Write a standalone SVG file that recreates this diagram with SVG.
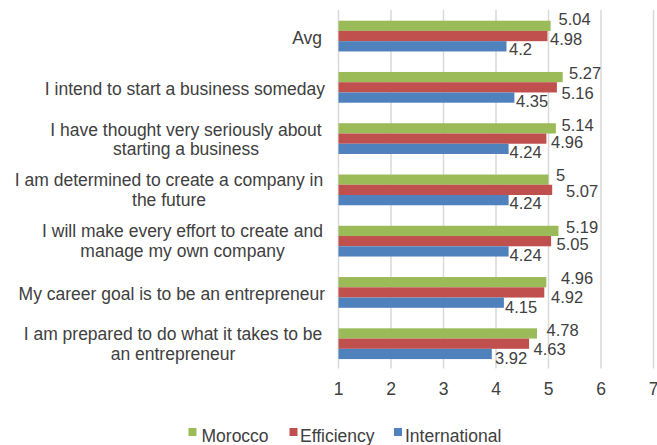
<svg xmlns="http://www.w3.org/2000/svg" width="657" height="445" viewBox="0 0 657 445">
<style>
text{font-family:"Liberation Sans",Arial,sans-serif;font-size:17.5px;fill:#404040}
.v{font-size:16.5px}
.cat{text-anchor:end}
.mid{text-anchor:middle}
.grid{stroke:#d9d9d9;stroke-width:1.5}
.g{fill:#9bbb59}
.r{fill:#c0504d}
.b{fill:#4f81bd}
</style>
<rect width="657" height="445" fill="#fff"/>
<g id="gridlines">
<line class="grid" x1="338.5" y1="10" x2="338.5" y2="368.5"/>
<line class="grid" x1="391" y1="10" x2="391" y2="368.5"/>
<line class="grid" x1="443.5" y1="10" x2="443.5" y2="368.5"/>
<line class="grid" x1="496" y1="10" x2="496" y2="368.5"/>
<line class="grid" x1="548.5" y1="10" x2="548.5" y2="368.5"/>
<line class="grid" x1="601" y1="10" x2="601" y2="368.5"/>
<line class="grid" x1="653.5" y1="10" x2="653.5" y2="368.5"/>
</g>
<g id="axis-labels">
<text class="mid" x="338.5" y="394.5">1</text>
<text class="mid" x="391" y="394.5">2</text>
<text class="mid" x="443.5" y="394.5">3</text>
<text class="mid" x="496" y="394.5">4</text>
<text class="mid" x="548.5" y="394.5">5</text>
<text class="mid" x="601" y="394.5">6</text>
<text class="mid" x="653.5" y="394.5">7</text>
</g>
<g id="cat-avg">
<text class="cat" x="322" y="43.5">Avg</text>
<rect class="g" x="338.5" y="20.7" width="212.1" height="10.25"/>
<rect class="r" x="338.5" y="30.95" width="208.95" height="10.25"/>
<rect class="b" x="338.5" y="41.2" width="168" height="10.25"/>
<text class="v" x="558.5" y="25">5.04</text>
<text class="v" x="550" y="45">4.98</text>
<text class="v" x="509" y="55">4.2</text>
</g>
<g id="cat-intend">
<text class="cat" x="325" y="94.5">I intend to start a business someday</text>
<rect class="g" x="338.5" y="71.97" width="224.2" height="10.25"/>
<rect class="r" x="338.5" y="82.22" width="218.4" height="10.25"/>
<rect class="b" x="338.5" y="92.47" width="175.9" height="10.25"/>
<text class="v" x="569" y="79">5.27</text>
<text class="v" x="561.5" y="99">5.16</text>
<text class="v" x="516" y="107">4.35</text>
</g>
<g id="cat-thought">
<text class="mid" x="186" y="135.5">I have thought very seriously about</text>
<text class="mid" x="186" y="155">starting a business</text>
<rect class="g" x="338.5" y="123.24" width="217.35" height="10.25"/>
<rect class="r" x="338.5" y="133.49" width="207.9" height="10.25"/>
<rect class="b" x="338.5" y="143.74" width="170.1" height="10.25"/>
<text class="v" x="561.5" y="131">5.14</text>
<text class="v" x="551" y="148">4.96</text>
<text class="v" x="509.5" y="158">4.24</text>
</g>
<g id="cat-determined">
<text class="mid" x="169" y="185.5">I am determined to create a company in</text>
<text class="mid" x="169" y="205.5">the future</text>
<rect class="g" x="338.5" y="174.51" width="210" height="10.25"/>
<rect class="r" x="338.5" y="184.76" width="213.7" height="10.25"/>
<rect class="b" x="338.5" y="195.01" width="170.1" height="10.25"/>
<text class="v" x="556" y="180.5">5</text>
<text class="v" x="566" y="197">5.07</text>
<text class="v" x="509.5" y="209">4.24</text>
</g>
<g id="cat-effort">
<text class="mid" x="182.5" y="236.5">I will make every effort to create and</text>
<text class="mid" x="182.5" y="256.5">manage my own company</text>
<rect class="g" x="338.5" y="225.78" width="220" height="10.25"/>
<rect class="r" x="338.5" y="236.03" width="212.6" height="10.25"/>
<rect class="b" x="338.5" y="246.28" width="170.1" height="10.25"/>
<text class="v" x="566" y="232.5">5.19</text>
<text class="v" x="556.5" y="250">5.05</text>
<text class="v" x="509.5" y="261">4.24</text>
</g>
<g id="cat-career">
<text class="cat" x="325" y="300">My career goal is to be an entrepreneur</text>
<rect class="g" x="338.5" y="277.05" width="207.9" height="10.25"/>
<rect class="r" x="338.5" y="287.3" width="205.8" height="10.25"/>
<rect class="b" x="338.5" y="297.55" width="165.4" height="10.25"/>
<text class="v" x="561" y="284">4.96</text>
<text class="v" x="551" y="303">4.92</text>
<text class="v" x="505" y="313">4.15</text>
</g>
<g id="cat-prepared">
<text class="mid" x="173" y="340">I am prepared to do what it takes to be</text>
<text class="mid" x="173" y="359.5">an entrepreneur</text>
<rect class="g" x="338.5" y="328.32" width="198.5" height="10.25"/>
<rect class="r" x="338.5" y="338.57" width="190.6" height="10.25"/>
<rect class="b" x="338.5" y="348.82" width="153.3" height="10.25"/>
<text class="v" x="546.5" y="336">4.78</text>
<text class="v" x="533.5" y="354.5">4.63</text>
<text class="v" x="495" y="364">3.92</text>
</g>
<g id="legend">
<rect class="g" x="188.5" y="428" width="8" height="8"/>
<text x="201.5" y="441.5">Morocco</text>
<rect class="r" x="289.5" y="428" width="8" height="8"/>
<text x="300" y="441.5">Efficiency</text>
<rect class="b" x="394" y="428" width="8" height="8"/>
<text x="405" y="441.5">International</text>
</g>
</svg>
